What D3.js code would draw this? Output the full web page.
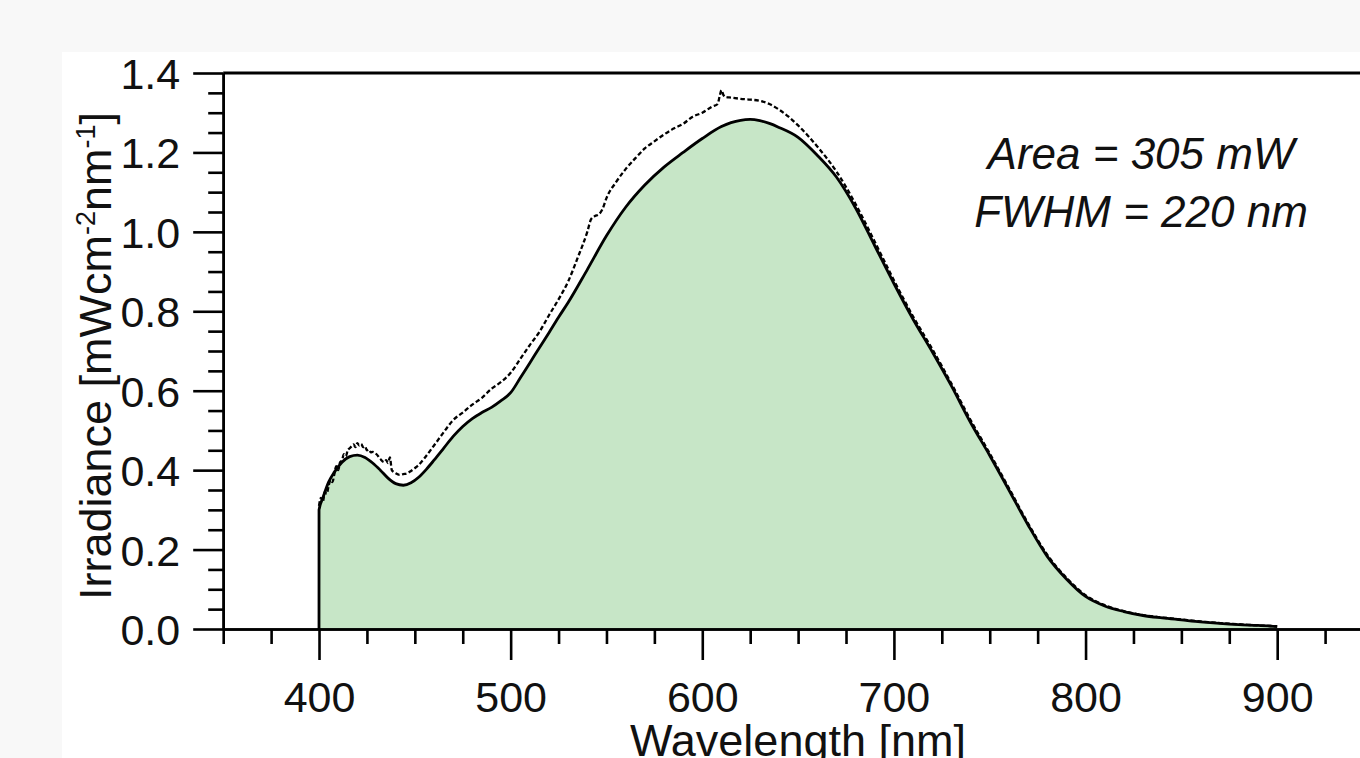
<!DOCTYPE html>
<html><head><meta charset="utf-8">
<script src="https://cdn.jsdelivr.net/npm/d3@7"></script>
<style>
html,body{margin:0;padding:0;background:#f8f8f8;}
svg{display:block;}
text{font-family:"Liberation Sans",Arial,sans-serif;fill:#111;}
</style></head><body>
<svg id="chart" width="1360" height="758"></svg>
<script>
// ---- data ----
const solidWl = [400,402,405,408,412,416,420,424,428,432,436,440,444,448,452,456,460,465,470,475,480,485,490,495,500,505,510,515,520,525,530,540,550,560,570,580,590,600,610,615,620,625,630,635,640,650,660,670,680,690,700,710,720,730,740,750,760,770,780,790,800,810,820,830,840,850,860,870,880,890,900];
const solidVal = [0.30,0.33,0.37,0.395,0.42,0.434,0.438,0.432,0.418,0.400,0.380,0.366,0.362,0.368,0.382,0.402,0.425,0.455,0.485,0.510,0.530,0.545,0.558,0.575,0.595,0.632,0.670,0.708,0.746,0.785,0.822,0.905,0.990,1.062,1.118,1.163,1.200,1.235,1.265,1.275,1.281,1.283,1.280,1.273,1.263,1.238,1.193,1.138,1.060,0.965,0.870,0.780,0.698,0.612,0.520,0.437,0.350,0.262,0.183,0.126,0.082,0.058,0.044,0.034,0.028,0.023,0.018,0.014,0.011,0.009,0.006];
const dashWl = [400,401,402,403,404,405,406,407,408,409,410,411,412,413,414,415,416,417,418,419,420,421,422,423,424,425,426,427,428,430,432,434,435,436,437,438,440,442,444,446,448,450,452,455,460,465,470,475,480,485,490,495,500,505,510,515,520,525,530,535,540,542,544,546,548,550,555,560,565,570,575,580,585,590,595,600,605,608,609,610,611,612,615,620,625,630,635,640,645,650,660,670,680,690,700,710,720,730,740,750,760,770,780,790,800,810,820,830,840,850,860,870,880,890,900];
const dashVal = [0.31,0.33,0.32,0.345,0.34,0.36,0.375,0.37,0.39,0.41,0.40,0.42,0.425,0.44,0.435,0.45,0.455,0.46,0.465,0.458,0.468,0.462,0.466,0.458,0.460,0.450,0.452,0.445,0.446,0.440,0.428,0.420,0.425,0.418,0.432,0.400,0.392,0.388,0.390,0.392,0.398,0.405,0.413,0.430,0.462,0.495,0.526,0.545,0.565,0.582,0.605,0.622,0.645,0.680,0.715,0.748,0.790,0.830,0.875,0.935,1.000,1.032,1.040,1.044,1.058,1.085,1.125,1.158,1.185,1.210,1.228,1.245,1.260,1.272,1.290,1.300,1.315,1.322,1.340,1.357,1.345,1.340,1.338,1.335,1.333,1.330,1.322,1.308,1.290,1.268,1.215,1.152,1.070,0.975,0.878,0.787,0.705,0.618,0.526,0.442,0.355,0.266,0.187,0.129,0.085,0.060,0.045,0.035,0.029,0.024,0.019,0.015,0.012,0.009,0.007];
const xMajor = [400,500,600,700,800,900];
const yMajor = [0.0,0.2,0.4,0.6,0.8,1.0,1.2,1.4];
const annotations = ["Area = 305 mW","FWHM = 220 nm"];
const xTitle = "Wavelength [nm]";

// ---- layout ----
const svg = d3.select("#chart");
svg.append("rect").attr("x",62).attr("y",52).attr("width",1360-62).attr("height",758-52).attr("fill","#ffffff");

const x = d3.scaleLinear().domain([350,950]).range([223.2,1373]);
const y = d3.scaleLinear().domain([0,1.4]).range([629,73]);

const solid = solidWl.map((w,i)=>({w, v:solidVal[i]}));
const dashed = dashWl.map((w,i)=>({w, v:dashVal[i]}));

// fill
const area = d3.area().curve(d3.curveMonotoneX).x(d=>x(d.w)).y0(y(0)).y1(d=>y(d.v));
svg.append("path").datum(solid).attr("d",area).attr("fill","#c7e6c7");

// dashed line
const dline = d3.line().curve(d3.curveMonotoneX).x(d=>x(d.w)).y(d=>y(d.v));
svg.append("path").datum(dashed).attr("d",dline).attr("fill","none")
  .attr("stroke","#000").attr("stroke-width",2.3).attr("stroke-dasharray","4.5,2.5");

// solid line (with vertical start at 400)
const sline = d3.line().curve(d3.curveMonotoneX).x(d=>x(d.w)).y(d=>y(d.v));
const solidPath = [{w:400,v:0},{w:400.01,v:solidVal[0]}].concat(solid.slice(1));
svg.append("path").datum(solidPath).attr("d",sline).attr("fill","none")
  .attr("stroke","#000").attr("stroke-width",2.8).attr("stroke-linejoin","round");

// top frame
svg.append("line").attr("x1",x(350)).attr("x2",1360).attr("y1",y(1.4)).attr("y2",y(1.4))
  .attr("stroke","#000").attr("stroke-width",3);

// axes
const xMinor = d3.range(350,951,25).filter(v=>!xMajor.includes(v));
const yMinor = d3.range(0,1.401,0.05).map(v=>+v.toFixed(2)).filter(v=>!yMajor.some(m=>Math.abs(m-v)<1e-6));

function styleAxis(g){
  g.selectAll("path,line").attr("stroke","#000").attr("stroke-width",2.6);
  g.selectAll("text").attr("fill","#111").style("font-family","'Liberation Sans',Arial,sans-serif");
}

const gxMinor = svg.append("g").attr("transform",`translate(0,${y(0)})`)
  .call(d3.axisBottom(x).tickValues(xMinor).tickSize(15).tickSizeOuter(0).tickFormat(""));
styleAxis(gxMinor);
const gx = svg.append("g").attr("transform",`translate(0,${y(0)})`)
  .call(d3.axisBottom(x).tickValues(xMajor).tickSize(31).tickSizeOuter(0).tickPadding(52).tickFormat(d3.format("d")));
styleAxis(gx);
gx.selectAll("text").style("font-size","43px").attr("dy","0");

const gyMinor = svg.append("g").attr("transform",`translate(${x(350)},0)`)
  .call(d3.axisLeft(y).tickValues(yMinor).tickSize(15).tickSizeOuter(0).tickFormat(""));
styleAxis(gyMinor);
const gy = svg.append("g").attr("transform",`translate(${x(350)},0)`)
  .call(d3.axisLeft(y).tickValues(yMajor).tickSize(30).tickSizeOuter(0).tickPadding(13).tickFormat(d3.format(".1f")));
styleAxis(gy);
gy.selectAll("text").style("font-size","43px").attr("dy","0.36em");

// x title
svg.append("text").attr("x",798).attr("y",756).attr("text-anchor","middle")
  .style("font-size","45px").text(xTitle);

// y title with superscripts
const yt = svg.append("text").attr("transform","translate(111,356) rotate(-90)")
  .attr("text-anchor","middle").style("font-size","45px");
yt.append("tspan").text("Irradiance [mWcm");
yt.append("tspan").attr("dy","-16").style("font-size","27px").text("-2");
yt.append("tspan").attr("dy","16").text("nm");
yt.append("tspan").attr("dy","-16").style("font-size","27px").text("-1");
yt.append("tspan").attr("dy","16").text("]");

// annotations
svg.selectAll("text.ann").data(annotations).enter().append("text").attr("class","ann")
  .attr("x",1141).attr("y",(d,i)=>169+i*58).attr("text-anchor","middle")
  .style("font-size","44px").style("font-style","italic").text(d=>d);
</script>
</body></html>
